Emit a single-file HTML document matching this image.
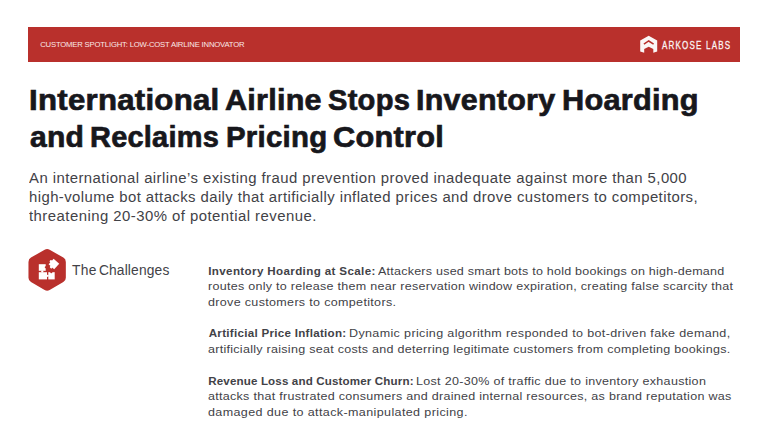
<!DOCTYPE html><html><head><meta charset="utf-8"><title>Arkose Labs Customer Spotlight</title><style>
html,body{margin:0;padding:0;background:#fff}
body{width:768px;height:428px;position:relative;overflow:hidden;font-family:"Liberation Sans",sans-serif}
.t{position:absolute;white-space:nowrap;display:block}
.bar{position:absolute;left:28px;top:27px;width:712px;height:35px;background:#b9302c}
svg{position:absolute;display:block}
h1,h2,p,div{margin:0;padding:0;font-size:inherit;font-weight:inherit}
</style></head><body>
<div class="bar"></div>
<svg style="left:636px;top:32px" width="26" height="24" viewBox="636 32 26 24">
  <path d="M648.7 35.8 L657.2 40.5 L657.2 51.6 L653.3 52.8 L653.3 49 L648.7 46.7 L644.2 49 L644.2 52.8 L640.2 51.6 L640.2 40.5 Z" fill="#fbf6f6"/>
  <path d="M643.9 44.2 L648.7 41 L653.6 44.2" fill="none" stroke="#b9302c" stroke-width="1.5"/>
</svg>
<svg style="left:24px;top:244px" width="48" height="52" viewBox="24 244 48 52">
  <polygon points="47.15,254 60.83,261.9 60.83,277.7 47.15,285.6 33.47,277.7 33.47,261.9" fill="#b9302c" stroke="#b9302c" stroke-width="10" stroke-linejoin="round"/>
  <g fill="#fff">
    <rect x="38.8" y="264.2" width="6.9" height="6.6"/>
    <rect x="38.8" y="272.2" width="8.2" height="7.2"/>
    <rect x="48.3" y="272.2" width="6.4" height="7.2"/>
    <circle cx="42.3" cy="271.5" r="1.15"/>
    <circle cx="47.7" cy="275.8" r="1.15"/>
    <g transform="rotate(42 53.9 264)">
      <rect x="50.2" y="260.3" width="7.5" height="7.5"/>
      <circle cx="50" cy="264" r="1.35"/>
      <circle cx="53.9" cy="268" r="1.35"/>
    </g>
  </g>
  <circle cx="45.8" cy="267.3" r="1.05" fill="#b9302c"/>
  <circle cx="51.3" cy="272.3" r="1.05" fill="#b9302c"/>
</svg>

<div class="banner-label">
<span id="b1_0" class="t" style="left:40.21px;top:40.40px;font-size:7.7px;line-height:10px;font-weight:400;letter-spacing:-0.176px;color:#fae9e8">CUSTOMER SPOTLIGHT: LOW-COST AIRLINE INNOVATOR</span>
</div>
<div class="brand">
<span id="lg_0" class="t" style="left:662.09px;top:38.30px;font-size:11.8px;line-height:15px;font-weight:400;letter-spacing:1.765px;color:#fbf6f6;transform:scaleX(0.6800);transform-origin:0 0;-webkit-text-stroke:0.3px #fbf6f6">ARKOSE LABS</span>
</div>
<h1 class="title">
<span id="t1_0" class="t" style="left:29.08px;top:81.20px;font-size:29.5px;line-height:38px;font-weight:700;letter-spacing:0.250px;color:#17171c;transform:scaleX(1.0569);transform-origin:0 0;-webkit-text-stroke:0.7px #17171c">International</span> 
<span id="t1_1" class="t" style="left:225.20px;top:81.20px;font-size:29.5px;line-height:38px;font-weight:700;letter-spacing:0.250px;color:#17171c;transform:scaleX(1.0352);transform-origin:0 0;-webkit-text-stroke:0.7px #17171c">Airline</span> 
<span id="t1_2" class="t" style="left:328.11px;top:81.20px;font-size:29.5px;line-height:38px;font-weight:700;letter-spacing:0.250px;color:#17171c;transform:scaleX(0.9867);transform-origin:0 0;-webkit-text-stroke:0.7px #17171c">Stops</span> 
<span id="t1_3" class="t" style="left:415.52px;top:81.20px;font-size:29.5px;line-height:38px;font-weight:700;letter-spacing:0.250px;color:#17171c;transform:scaleX(1.0319);transform-origin:0 0;-webkit-text-stroke:0.7px #17171c">Inventory</span> 
<span id="t1_4" class="t" style="left:561.51px;top:81.20px;font-size:29.5px;line-height:38px;font-weight:700;letter-spacing:0.250px;color:#17171c;transform:scaleX(1.0409);transform-origin:0 0;-webkit-text-stroke:0.7px #17171c">Hoarding</span> 
<span id="t2_0" class="t" style="left:29.58px;top:118.40px;font-size:29.5px;line-height:38px;font-weight:700;letter-spacing:0.250px;color:#17171c;transform:scaleX(1.0189);transform-origin:0 0;-webkit-text-stroke:0.7px #17171c">and</span> 
<span id="t2_1" class="t" style="left:90.41px;top:118.40px;font-size:29.5px;line-height:38px;font-weight:700;letter-spacing:0.250px;color:#17171c;transform:scaleX(0.9812);transform-origin:0 0;-webkit-text-stroke:0.7px #17171c">Reclaims</span> 
<span id="t2_2" class="t" style="left:226.08px;top:118.40px;font-size:29.5px;line-height:38px;font-weight:700;letter-spacing:0.250px;color:#17171c;transform:scaleX(0.9965);transform-origin:0 0;-webkit-text-stroke:0.7px #17171c">Pricing</span> 
<span id="t2_3" class="t" style="left:333.10px;top:118.40px;font-size:29.5px;line-height:38px;font-weight:700;letter-spacing:0.250px;color:#17171c;transform:scaleX(1.0418);transform-origin:0 0;-webkit-text-stroke:0.7px #17171c">Control</span>
</h1>
<p class="intro">
<span id="p1_0" class="t" style="left:29.37px;top:169.80px;font-size:13.8px;line-height:18px;font-weight:400;letter-spacing:0.406px;color:#424247;transform:scaleX(1.0800);transform-origin:0 0">An international airline’s existing fraud prevention proved inadequate against more than 5,000</span> 
<span id="p2_0" class="t" style="left:28.57px;top:189.00px;font-size:13.8px;line-height:18px;font-weight:400;letter-spacing:0.385px;color:#424247;transform:scaleX(1.0800);transform-origin:0 0">high-volume bot attacks daily that artificially inflated prices and drove customers to competitors,</span> 
<span id="p3_0" class="t" style="left:29.37px;top:208.00px;font-size:13.8px;line-height:18px;font-weight:400;letter-spacing:0.429px;color:#424247;transform:scaleX(1.0800);transform-origin:0 0">threatening 20-30% of potential revenue.</span>
</p>
<h2 class="section-title">
<span id="h1_0" class="t" style="left:71.99px;top:261.70px;font-size:13.8px;line-height:18px;font-weight:400;letter-spacing:0.275px;color:#424247">The</span> 
<span id="h1_1" class="t" style="left:98.90px;top:261.70px;font-size:13.8px;line-height:18px;font-weight:400;letter-spacing:0.152px;color:#424247">Challenges</span>
</h2>
<div class="challenges">
<span id="c0_0" class="t" style="left:208.22px;top:262.55px;font-size:11.6px;line-height:15px;font-weight:700;letter-spacing:0.367px;color:#424247">Inventory Hoarding at Scale:</span> 
<span id="c0_1" class="t" style="left:377.78px;top:262.55px;font-size:11.6px;line-height:15px;font-weight:400;letter-spacing:0.212px;color:#424247;transform:scaleX(1.0800);transform-origin:0 0">Attackers used smart bots to hold bookings on high-demand</span> 
<span id="c1_0" class="t" style="left:208.17px;top:278.28px;font-size:11.6px;line-height:15px;font-weight:400;letter-spacing:0.258px;color:#424247;transform:scaleX(1.0800);transform-origin:0 0">routes only to release them near reservation window expiration, creating false scarcity that</span> 
<span id="c2_0" class="t" style="left:208.47px;top:294.01px;font-size:11.6px;line-height:15px;font-weight:400;letter-spacing:0.303px;color:#424247;transform:scaleX(1.0800);transform-origin:0 0">drove customers to competitors.</span> 
<span id="c4_0" class="t" style="left:208.71px;top:325.47px;font-size:11.6px;line-height:15px;font-weight:700;letter-spacing:0.280px;color:#424247">Artificial Price Inflation:</span> 
<span id="c4_1" class="t" style="left:348.97px;top:325.47px;font-size:11.6px;line-height:15px;font-weight:400;letter-spacing:0.334px;color:#424247;transform:scaleX(1.0800);transform-origin:0 0">Dynamic pricing algorithm responded to bot-driven fake demand,</span> 
<span id="c5_0" class="t" style="left:208.47px;top:341.20px;font-size:11.6px;line-height:15px;font-weight:400;letter-spacing:0.257px;color:#424247;transform:scaleX(1.0800);transform-origin:0 0">artificially raising seat costs and deterring legitimate customers from completing bookings.</span> 
<span id="c7_0" class="t" style="left:208.22px;top:372.66px;font-size:11.6px;line-height:15px;font-weight:700;letter-spacing:0.139px;color:#424247">Revenue Loss and Customer Churn:</span> 
<span id="c7_1" class="t" style="left:415.97px;top:372.66px;font-size:11.6px;line-height:15px;font-weight:400;letter-spacing:0.286px;color:#424247;transform:scaleX(1.0800);transform-origin:0 0">Lost 20-30% of traffic due to inventory exhaustion</span> 
<span id="c8_0" class="t" style="left:208.47px;top:388.39px;font-size:11.6px;line-height:15px;font-weight:400;letter-spacing:0.262px;color:#424247;transform:scaleX(1.0800);transform-origin:0 0">attacks that frustrated consumers and drained internal resources, as brand reputation was</span> 
<span id="c9_0" class="t" style="left:208.47px;top:404.12px;font-size:11.6px;line-height:15px;font-weight:400;letter-spacing:0.356px;color:#424247;transform:scaleX(1.0800);transform-origin:0 0">damaged due to attack-manipulated pricing.</span>
</div>
</body></html>
